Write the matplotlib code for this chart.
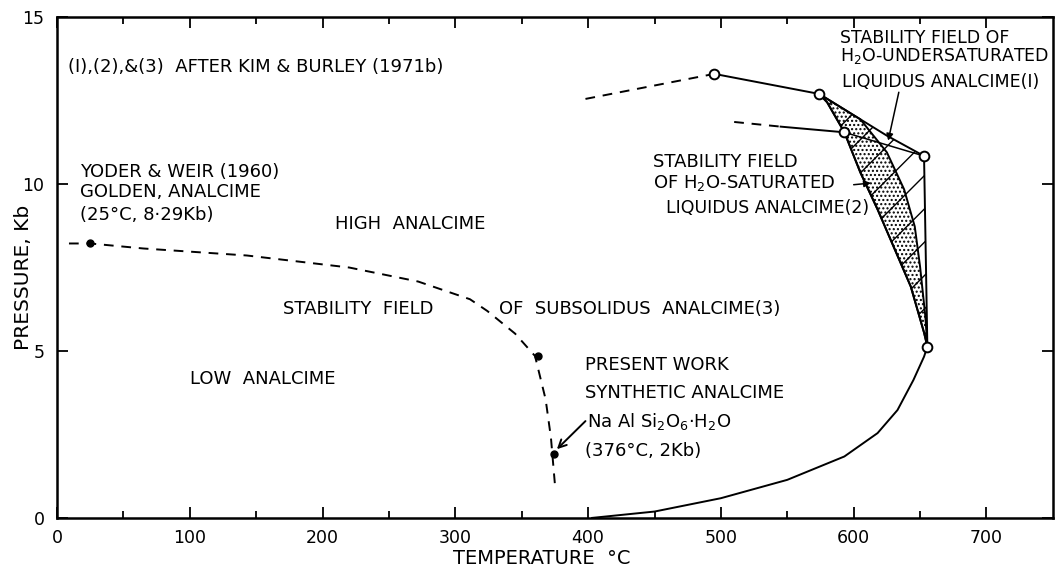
import numpy as np
import matplotlib
matplotlib.use("Agg")
import matplotlib.pyplot as plt

plt.rcParams['font.family'] = ['DejaVu Sans']
plt.rcParams['hatch.linewidth'] = 1.0

# subsolidus curve (3), Yoder & Weir -> present work
sub_T = [9, 25, 65, 143, 220, 272, 311, 324, 345, 360, 368, 372, 375]
sub_P = [8.22, 8.22, 8.07, 7.86, 7.5, 7.08, 6.55, 6.2, 5.52, 4.85, 3.55, 2.4, 1.0]
dot_T = [25, 362, 374]
dot_P = [8.24, 4.86, 1.9]

# upper curve (1)
up_dash_T = [398, 495]
up_dash_P = [12.55, 13.3]
up_solid_T = [495, 574]
up_solid_P = [13.3, 12.7]

# curve (2)
mid_dash_T = [510, 545]
mid_dash_P = [11.86, 11.72]
mid_solid_T = [545, 593]
mid_solid_P = [11.72, 11.55]

# liquidus of present work
liq_T = [403, 450, 500, 550, 593, 618, 633, 645, 653, 655.5]
liq_P = [0.0, 0.19, 0.59, 1.14, 1.84, 2.54, 3.23, 4.13, 4.83, 5.13]

circ_T = [495, 574, 593, 653, 655.5]
circ_P = [13.3, 12.7, 11.55, 10.84, 5.13]

# stability field boundaries
left_T = [574, 580, 593, 605, 618, 631, 643, 653, 655.5]
left_P = [12.7, 12.45, 11.55, 10.35, 9.24, 8.04, 6.93, 5.55, 5.13]
inner_T = [574, 605, 625, 638, 646, 650, 654, 655.5]
inner_P = [12.7, 11.94, 10.95, 9.84, 8.73, 7.53, 6.03, 5.13]
top_T = [574, 625, 653]
top_P = [12.7, 11.45, 10.84]
right_T = [653, 655.5]
right_P = [10.84, 5.13]
cross_T = [593, 653]
cross_P = [11.55, 10.84]

fig, ax = plt.subplots(figsize=(10.56, 5.71), dpi=100)
fig.subplots_adjust(left=0.054, right=0.997, bottom=0.093, top=0.97)

lw = 1.4
ax.plot(sub_T, sub_P, "k--", lw=lw, dashes=(5, 4))
ax.plot(dot_T, dot_P, "ko", ms=5)
ax.plot(up_dash_T, up_dash_P, "k--", lw=lw, dashes=(5, 4))
ax.plot(up_solid_T, up_solid_P, "k-", lw=lw)
ax.plot(mid_dash_T, mid_dash_P, "k--", lw=lw, dashes=(5, 4))
ax.plot(mid_solid_T, mid_solid_P, "k-", lw=lw)
ax.plot(liq_T, liq_P, "k-", lw=lw)

# hatched field (1) and stippled field (2)
outer_T = np.concatenate([left_T, right_T[::-1], top_T[::-1]])
outer_P = np.concatenate([left_P, right_P[::-1], top_P[::-1]])
ax.fill(outer_T, outer_P, facecolor="white", edgecolor="black", hatch="/", lw=lw)
band_T = np.concatenate([left_T, inner_T[::-1]])
band_P = np.concatenate([left_P, inner_P[::-1]])
ax.fill(band_T, band_P, facecolor="none", edgecolor="black", hatch="....", lw=lw)
ax.plot(cross_T, cross_P, "k-", lw=1.1)

ax.plot(circ_T, circ_P, "o", ms=7, mfc="white", mec="black", mew=1.4, zorder=5)

fs = 13
ax.text(8, 13.5, "(I),(2),&(3)  AFTER KIM & BURLEY (1971b)", fontsize=fs, va="center")
ax.text(590, 14.37, "STABILITY FIELD OF", fontsize=12.5, va="center")
ax.text(590, 13.83, "H$_2$O-UNDERSATURATED", fontsize=12.5, va="center")
ax.text(591, 13.05, "LIQUIDUS ANALCIME(I)", fontsize=12.5, va="center")
ax.text(449, 10.66, "STABILITY FIELD", fontsize=fs, va="center")
ax.text(449, 10.03, "OF H$_2$O-SATURATED", fontsize=fs, va="center")
ax.text(459, 9.28, "LIQUIDUS ANALCIME(2)", fontsize=12.5, va="center")
ax.text(17, 10.36, "YODER & WEIR (1960)", fontsize=fs, va="center")
ax.text(17, 9.76, "GOLDEN, ANALCIME", fontsize=fs, va="center")
ax.text(17, 9.07, "(25°C, 8·29Kb)", fontsize=fs, va="center")
ax.text(209, 8.79, "HIGH  ANALCIME", fontsize=fs, va="center")
ax.text(170, 6.26, "STABILITY  FIELD", fontsize=fs, va="center")
ax.text(333, 6.26, "OF  SUBSOLIDUS  ANALCIME(3)", fontsize=fs, va="center")
ax.text(100, 4.15, "LOW  ANALCIME", fontsize=fs, va="center")
ax.text(398, 4.58, "PRESENT WORK", fontsize=fs, va="center")
ax.text(398, 3.74, "SYNTHETIC ANALCIME", fontsize=fs, va="center")
ax.text(399, 2.9, "Na Al Si$_2$O$_6$·H$_2$O", fontsize=fs, va="center")
ax.text(398, 2.0, "(376°C, 2Kb)", fontsize=fs, va="center")

# leader arrows
ax.annotate("", xy=(375, 2.0), xytext=(398, 2.9),
            arrowprops=dict(arrowstyle="->", color="black", lw=1.4,
                            shrinkA=0, shrinkB=2, mutation_scale=14))
ax.annotate("", xy=(626, 11.3), xytext=(634, 12.75),
            arrowprops=dict(arrowstyle="-|>", color="black", lw=1.1,
                            shrinkA=0, shrinkB=0, mutation_scale=10))
ax.annotate("", xy=(613, 10.03), xytext=(600, 9.98),
            arrowprops=dict(arrowstyle="-|>", color="black", lw=1.1,
                            shrinkA=0, shrinkB=0, mutation_scale=10))

ax.set_xlim(0, 750)
ax.set_ylim(0, 15)
ax.set_xticks(range(0, 800, 100))
ax.set_xticks(range(50, 750, 100), minor=True)
ax.set_yticks([0, 5, 10, 15])
ax.tick_params(which="both", direction="in", top=True, right=True, labelsize=12.5)
ax.tick_params(which="major", length=8, width=1.3)
ax.tick_params(which="minor", length=5, width=1.3)
ax.tick_params(axis="x", pad=8)
ax.tick_params(axis="y", pad=9)
for s in ax.spines.values():
    s.set_linewidth(1.8)

ax.set_xlabel("TEMPERATURE  °C", fontsize=14, va="center")
ax.xaxis.set_label_coords(0.487, -0.082)
ax.set_ylabel("PRESSURE, Kb", fontsize=14.5, va="center")
ax.yaxis.set_label_coords(-0.034, 0.48)

plt.savefig("out.png", dpi=100)
